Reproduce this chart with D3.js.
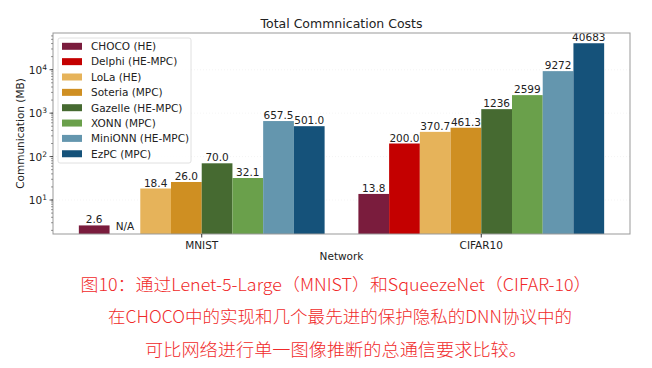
<!DOCTYPE html>
<html><head><meta charset="utf-8">
<script src="https://cdn.jsdelivr.net/npm/d3@7"></script>
<style>body{margin:0;background:#fff}svg{display:block}</style>
</head><body>
<svg id="c" width="652" height="368"></svg>
<script>
const groups = ["MNIST", "CIFAR10"];
const series = ["CHOCO (HE)", "Delphi (HE-MPC)", "LoLa (HE)", "Soteria (MPC)", "Gazelle (HE-MPC)", "XONN (MPC)", "MiniONN (HE-MPC)", "EzPC (MPC)"];
const colors = ["#7a1c3d", "#c40000", "#e6b35a", "#cf8f22", "#466a31", "#6aa04b", "#6496ae", "#15527a"];
const mnistValues = [2.6, null, 18.4, 26.0, 70.0, 32.1, 657.5, 501.0];
const cifarValues = [13.8, 200.0, 370.7, 461.3, 1236, 2599, 9272, 40683];
const mnistLabels = ["2.6", "N/A", "18.4", "26.0", "70.0", "32.1", "657.5", "501.0"];
const cifarLabels = ["13.8", "200.0", "370.7", "461.3", "1236", "2599", "9272", "40683"];
const yTicks = [10, 100, 1000, 10000];
const yExps = ["1", "2", "3", "4"];
const captionLines = [
  "图10：通过Lenet-5-Large（MNIST）和SqueezeNet（CIFAR-10）",
  "在CHOCO中的实现和几个最先进的保护隐私的DNN协议中的",
  "可比网络进行单一图像推断的总通信要求比较。"
];

const svg = d3.select("#c");
const L = 53, R = 630, T = 33, B = 234;
const font = "DejaVu Sans, sans-serif";

const x = d3.scaleLinear().domain([-0.532, 1.532]).range([L, R]);
const barW = (x(1) - x(0)) / 9.1;
const y = d3.scaleLog().domain([1.65, 70000]).range([B, T]);

// faint grid
const g = svg.append("g");
const minor = [];
for (let e = 0; e <= 4; e++) for (let m = 1; m < 10; m++) { const v = m * Math.pow(10, e); if (v > 1.65 && v < 70000) minor.push(v); }
g.selectAll("line.gy").data(yTicks).join("line")
  .attr("x1", L).attr("x2", R).attr("y1", d => y(d)).attr("y2", d => y(d))
  .attr("stroke", "#f2f2f2").attr("stroke-width", 0.8).attr("stroke-dasharray", "1,2");

const data = [mnistValues, cifarValues];
const labels = [mnistLabels, cifarLabels];
groups.forEach((grp, gi) => {
  series.forEach((s, si) => {
    const cx = x(gi) + (si - 3.5) * barW;
    const v = data[gi][si];
    if (v != null) {
      g.append("rect").attr("x", cx - barW / 2).attr("width", barW)
        .attr("y", y(v)).attr("height", B - y(v)).attr("fill", colors[si]);
      g.append("text").attr("x", cx).attr("y", y(v) - 2).attr("text-anchor", "middle")
        .attr("font-family", font).attr("font-size", 10.5).attr("fill", "#222").text(labels[gi][si]);
    } else {
      g.append("text").attr("x", cx).attr("y", B - 4).attr("text-anchor", "middle")
        .attr("font-family", font).attr("font-size", 10.5).attr("fill", "#222").text(labels[gi][si]);
    }
  });
});

// spines
svg.append("rect").attr("x", L).attr("y", T).attr("width", R - L).attr("height", B - T)
  .attr("fill", "none").attr("stroke", "#999").attr("stroke-width", 1);

// y axis ticks
const ya = svg.append("g");
ya.selectAll("line.mn").data(minor).join("line")
  .attr("x1", L - 2).attr("x2", L).attr("y1", d => y(d)).attr("y2", d => y(d)).attr("stroke", "#555").attr("stroke-width", 0.6);
ya.selectAll("line.mj").data(yTicks).join("line")
  .attr("x1", L - 3.5).attr("x2", L).attr("y1", d => y(d)).attr("y2", d => y(d)).attr("stroke", "#333").attr("stroke-width", 0.8);
yTicks.forEach((t, i) => {
  const tx = ya.append("text").attr("x", L - 6).attr("y", y(t) + 4).attr("text-anchor", "end")
    .attr("font-family", font).attr("font-size", 10.5).attr("fill", "#222");
  tx.append("tspan").text("10");
  tx.append("tspan").attr("dy", -4).attr("font-size", 7.5).text(yExps[i]);
});

// x axis ticks
groups.forEach((grp, gi) => {
  svg.append("line").attr("x1", x(gi)).attr("x2", x(gi)).attr("y1", B).attr("y2", B + 3.5).attr("stroke", "#333");
  svg.append("text").attr("x", x(gi)).attr("y", B + 15).attr("text-anchor", "middle")
    .attr("font-family", font).attr("font-size", 10.5).attr("fill", "#222").text(grp);
});

// titles
svg.append("text").attr("x", (L + R) / 2).attr("y", 28).attr("text-anchor", "middle")
  .attr("font-family", font).attr("font-size", 12.5).attr("fill", "#222").text("Total Commnication Costs");
svg.append("text").attr("x", (L + R) / 2).attr("y", 260).attr("text-anchor", "middle")
  .attr("font-family", font).attr("font-size", 10.5).attr("fill", "#222").text("Network");
svg.append("text").attr("transform", `translate(24,${(T + B) / 2}) rotate(-90)`).attr("text-anchor", "middle")
  .attr("font-family", font).attr("font-size", 10.5).attr("fill", "#222").text("Communication (MB)");

// legend
const lg = svg.append("g");
lg.append("rect").attr("x", 58).attr("y", 38).attr("width", 133).attr("height", 125).attr("rx", 2)
  .attr("fill", "#fff").attr("fill-opacity", 0.85).attr("stroke", "#d8d8d8").attr("stroke-width", 0.8);
series.forEach((s, i) => {
  const cy = 46.3 + i * 15.35;
  lg.append("rect").attr("x", 62).attr("y", cy - 3.5).attr("width", 20).attr("height", 7).attr("fill", colors[i]);
  lg.append("text").attr("x", 91).attr("y", cy + 3.8).attr("font-family", font).attr("font-size", 10.5)
    .attr("fill", "#222").text(s);
});

// caption
const cap = [[80.5, 591.5, 291], [108, 572, 323], [145, 527, 356]];
captionLines.forEach((t, i) => {
  svg.append("text").attr("x", cap[i][0]).attr("y", cap[i][2])
    .attr("textLength", cap[i][1] - cap[i][0]).attr("lengthAdjust", "spacingAndGlyphs")
    .attr("font-family", "'Noto Sans CJK SC', sans-serif").attr("font-size", 17).attr("font-weight", 300)
    .attr("fill", "#f02a2a").text(t);
});
</script>
</body></html>
